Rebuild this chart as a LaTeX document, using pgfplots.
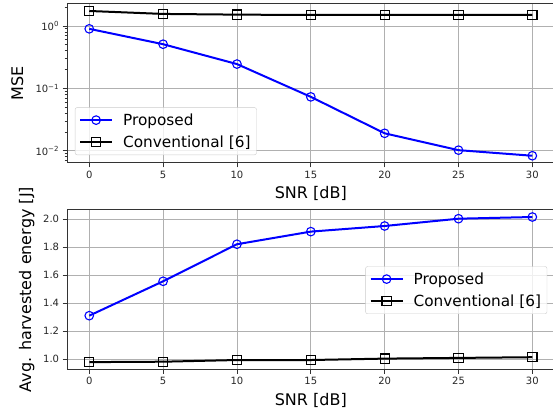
\documentclass[border=0pt]{standalone}
\usepackage{fontspec}
\setmainfont{DejaVu Sans}
\usepackage{pgfplots}
\pgfplotsset{compat=1.18}

\definecolor{gridgray}{HTML}{B0B0B0}
\definecolor{legedge}{HTML}{CCCCCC}

\pgfplotsset{
  snrstyle/.style={
    scale only axis, width=487.4pt,
    xmin=-1.5, xmax=31.5,
    xtick={0,5,...,30},
    grid=major,
    major grid style={gridgray, line width=0.8pt},
    axis line style={black!80, line width=1pt},
    tick align=outside, xtick pos=left, ytick pos=left,
    major tick length=4.5pt, minor tick length=2.5pt,
    every tick/.style={black!80, line width=0.8pt},
    ticklabel style={font=\fontsize{10}{12}\selectfont, text=black!85},
    x tick label style={/pgf/number format/assume math mode=true},
    label style={font=\fontsize{16}{19}\selectfont},
    xlabel={SNR [dB]},
    xlabel style={at={(axis description cs:0.5,0)}, anchor=base, yshift=-36pt},
    legend cell align=left,
    legend image code/.code={\draw[mark repeat=2, mark phase=2, #1]
      plot coordinates {(0pt,0pt) (16pt,0pt) (32pt,0pt)};},
    legend style={font=\fontsize{15.3}{18}\selectfont, draw=legedge,
      rounded corners=2pt, fill=white, fill opacity=0.8, text opacity=1,
      row sep=5pt, inner sep=4pt,
      /tikz/every odd column/.append style={column sep=8pt}},
  },
  prop/.style={blue, line width=2pt, mark=o, mark size=4.3pt,
    mark options={solid, line width=1.1pt, fill=none}},
  conv/.style={black, line width=2pt, mark=square, mark size=4.6pt,
    mark options={solid, line width=1.1pt, fill=none}},
}

\begin{document}
\begin{tikzpicture}
\useasboundingbox (0,0) rectangle (553pt,414pt);

% MSE versus SNR
\begin{axis}[snrstyle,
  at={(67.1pt,251pt)}, anchor=south west, height=159.7pt,
  ymode=log, ymin=0.00635, ymax=2.31,
  ytick={0.01,0.1,1},
  yticklabels={10\textsuperscript{−2}, 10\textsuperscript{−1}, 10\textsuperscript{0}},
  minor ytick={0.007,0.008,0.009,0.02,0.03,0.04,0.05,0.06,0.07,0.08,0.09,
    0.2,0.3,0.4,0.5,0.6,0.7,0.8,0.9,2},
  ylabel={MSE},
  ylabel style={at={(axis description cs:0,0.5)}, anchor=base, yshift=44pt},
  legend style={at={(0.016,0.05)}, anchor=south west},
]
\addplot[prop] coordinates {(0,0.90) (5,0.51) (10,0.245) (15,0.073) (20,0.019) (25,0.0102) (30,0.0083)};
\addplot[conv] coordinates {(0,1.74) (5,1.56) (10,1.52) (15,1.50) (20,1.50) (25,1.50) (30,1.50)};
\legend{Proposed, Conventional [6]}
\end{axis}

% harvested energy versus SNR
\begin{axis}[snrstyle,
  at={(67.1pt,45pt)}, anchor=south west, height=159pt,
  ymin=0.931, ymax=2.064,
  ytick={1.0,1.2,...,2.01},
  y tick label style={/pgf/number format/.cd, fixed, fixed zerofill, precision=1, assume math mode=true},
  ylabel={Avg. harvested energy [J]},
  ylabel style={at={(axis description cs:0,0.5)}, anchor=base, yshift=36pt},
  legend style={at={(0.985,0.346)}, anchor=south east},
]
\addplot[prop] coordinates {(0,1.311) (5,1.556) (10,1.82) (15,1.91) (20,1.95) (25,2.002) (30,2.014)};
\addplot[conv] coordinates {(0,0.980) (5,0.983) (10,0.995) (15,0.995) (20,1.005) (25,1.010) (30,1.015)};
\legend{Proposed, Conventional [6]}
\end{axis}
\end{tikzpicture}
\end{document}
